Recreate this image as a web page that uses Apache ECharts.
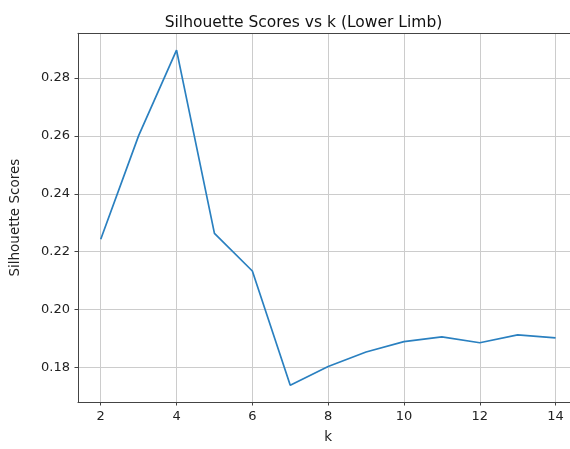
<!DOCTYPE html>
<html>
<head>
<meta charset="utf-8">
<script src="https://cdn.jsdelivr.net/npm/echarts@6/dist/echarts.min.js"></script>
<style>
  html, body { margin: 0; padding: 0; overflow: hidden; background: #fff; }
  #wrap { width: 570px; height: 449px; overflow: hidden; position: relative; }
  /* the canvas is a bit wider than the page so the plot frame runs off the right edge */
  #chart { width: 590px; height: 449px; position: absolute; left: 0; top: 0; }
</style>
</head>
<body>
<div id="wrap"><div id="chart"></div></div>
<script>
// Number of clusters tried and the silhouette score obtained for each
const kValues = [2, 3, 4, 5, 6, 7, 8, 9, 10, 11, 12, 13, 14];
const scores = [0.2243, 0.2601, 0.2897, 0.2263, 0.2133, 0.1738, 0.1803, 0.1853, 0.1889, 0.1905, 0.1885, 0.1912, 0.1902];
const xTicks = [2, 4, 6, 8, 10, 12, 14];
const yTicks = [0.18, 0.20, 0.22, 0.24, 0.26, 0.28];

// 5% padding around the data range on both axes
function padded(arr) {
  const lo = Math.min(...arr), hi = Math.max(...arr);
  const m = (hi - lo) * 0.05;
  return [lo - m, hi + m];
}
const [xMin, xMax] = padded(kValues);
const [yMin, yMax] = padded(scores);

const FONT = 'DejaVu Sans';
const SPINE = '#444';
const GRID = '#cccccc';

const chart = echarts.init(document.getElementById('chart'), null, { renderer: 'canvas' });
chart.setOption({
  animation: false,
  backgroundColor: '#fff',
  title: {
    text: 'Silhouette Scores vs k (Lower Limb)',
    left: 298.5,
    textAlign: 'center',
    top: 10,
    textStyle: { fontFamily: FONT, fontSize: 15.5, fontWeight: 'normal', color: '#111' }
  },
  grid: { left: 75.7, right: 11.7, top: 33.3, bottom: 42, show: false },
  xAxis: [{
    type: 'value',
    min: xMin, max: xMax,
    name: 'k',
    nameLocation: 'middle',
    nameGap: 28,
    nameTextStyle: { fontFamily: FONT, fontSize: 13.5, color: '#222' },
    axisLine: { show: true, lineStyle: { color: SPINE, width: 1 } },
    axisTick: { show: true, inside: false, length: 3.5, customValues: xTicks, lineStyle: { color: SPINE, width: 1 } },
    axisLabel: { customValues: xTicks, margin: 8, fontFamily: FONT, fontSize: 13, color: '#222' },
    splitLine: { show: true, lineStyle: { color: GRID, width: 1 } }
  }, {
    // top spine of the frame
    type: 'value',
    position: 'top',
    min: xMin, max: xMax,
    axisLine: { show: true, onZero: false, lineStyle: { color: SPINE, width: 1 } },
    axisTick: { show: false },
    axisLabel: { show: false },
    splitLine: { show: false }
  }],
  yAxis: {
    type: 'value',
    min: yMin, max: yMax,
    name: 'Silhouette Scores',
    nameLocation: 'middle',
    nameGap: 56,
    nameTextStyle: { fontFamily: FONT, fontSize: 13.5, color: '#222' },
    axisLine: { show: true, onZero: false, lineStyle: { color: SPINE, width: 1 } },
    axisTick: { show: true, inside: false, length: 3.5, customValues: yTicks, lineStyle: { color: SPINE, width: 1 } },
    axisLabel: {
      customValues: yTicks, margin: 8, fontFamily: FONT, fontSize: 13, color: '#222',
      formatter: v => v.toFixed(2)
    },
    splitLine: { show: true, lineStyle: { color: GRID, width: 1 } }
  },
  series: [{
    type: 'line',
    xAxisIndex: 0,
    data: kValues.map((k, i) => [k, scores[i]]),
    showSymbol: false,
    lineStyle: { color: '#2a80c0', width: 1.7 },
    clip: false
  }]
});
</script>
</body>
</html>
